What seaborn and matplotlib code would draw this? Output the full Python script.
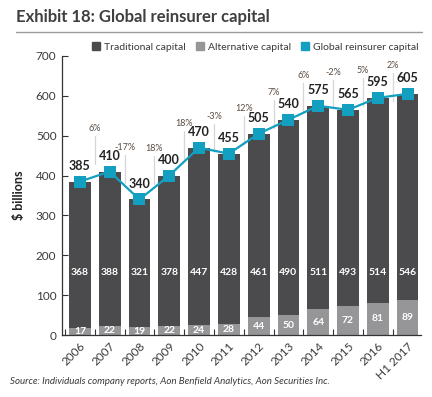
import numpy as np
import pandas as pd
import matplotlib
matplotlib.use("Agg")
import matplotlib.pyplot as plt
import seaborn as sns
from matplotlib.patches import Patch
from matplotlib.lines import Line2D
from matplotlib.ticker import FixedLocator

# ---- data ----
years = ["2006", "2007", "2008", "2009", "2010", "2011", "2012", "2013",
         "2014", "2015", "2016", "H1 2017"]
traditional = [368, 388, 321, 378, 447, 428, 461, 490, 511, 493, 514, 546]
alternative = [17, 22, 19, 22, 24, 28, 44, 50, 64, 72, 81, 89]
total = [385, 410, 340, 400, 470, 455, 505, 540, 575, 565, 595, 605]
pct_change = ["6%", "-17%", "18%", "18%", "-3%", "12%", "7%", "6%", "-2%", "5%", "2%"]
pct_label_y = [519, 471, 469, 531, 549, 569, 609, 652, 659, 664, 677]

C_TRAD = "#4b4b4d"
C_ALT = "#969698"
C_LINE = "#129fc0"
C_TEXT = "#3a3a3a"

sns.set_theme(style="white")
plt.rcParams["font.family"] = ["Lato", "DejaVu Sans"]

fig = plt.figure(figsize=(4.32, 3.97), dpi=100)
ax = fig.add_axes([62 / 432, 1 - 335 / 397, (421 - 62) / 432, (335 - 56) / 397])

df = pd.DataFrame({"year": years, "trad": traditional, "alt": alternative,
                   "global": total})

# dark bar reaches the global total; the alternative part is overlaid at the base
sns.barplot(data=df, x="year", y="global", color=C_TRAD, saturation=1,
            width=0.73, ax=ax, edgecolor="none", order=years)
sns.barplot(data=df, x="year", y="alt", color=C_ALT, saturation=1,
            width=0.73, ax=ax, edgecolor="none", order=years)
xpos = np.arange(len(years))
sns.lineplot(x=xpos, y=df["global"], ax=ax, color=C_LINE, linewidth=1.6,
             marker="s", markersize=9, markeredgewidth=0, zorder=5)

# labels
for i in range(len(years)):
    ax.annotate(str(total[i]), (i, total[i]), xytext=(0, 7), textcoords="offset points",
                ha="center", va="bottom", fontsize=9, fontweight="bold", color="#222222",
                zorder=6)
    ax.text(i, 158, str(traditional[i]), ha="center", va="center", color="white",
            fontsize=7.5, fontweight="bold")
    ax.text(i, alternative[i] / 2, str(alternative[i]), ha="center", va="center",
            color="white", fontsize=7.5, fontweight="bold")

for j, (lab, yv) in enumerate(zip(pct_change, pct_label_y)):
    x = j + 0.5
    ax.text(x, yv, lab, ha="center", va="center", fontsize=6.5, color="#5a4b40")
    ax.plot([x, x], [yv - 20, yv - 90], color="#d6d6d6", lw=0.9, zorder=0.5)

ax.set_ylim(0, 700)
ax.set_xlim(-0.6, 11.45)
ax.set_yticks(range(0, 701, 100))
ax.set_xticks(xpos)
ax.set_xticklabels(years, rotation=45, ha="right", rotation_mode="anchor")
ax.xaxis.set_minor_locator(FixedLocator(np.arange(-0.5, 11.6, 1)))
ax.tick_params(axis="x", which="major", length=0, labelsize=8.5, labelcolor=C_TEXT, pad=4)
ax.tick_params(axis="x", which="minor", length=4, direction="in", width=0.8, color="#333333",
               bottom=True)
ax.tick_params(axis="y", length=4, direction="in", width=0.8, color="#333333",
               labelsize=8.5, labelcolor=C_TEXT, pad=4, left=True)
ax.set_xlabel("")
ax.set_ylabel("$ billions", fontsize=9, fontweight="bold", color="#222222", labelpad=8)
for s in ["top", "right"]:
    ax.spines[s].set_visible(False)
for s in ["left", "bottom"]:
    ax.spines[s].set_color("#333333")
    ax.spines[s].set_linewidth(0.9)

# legend
handles = [Patch(color=C_TRAD, label="Traditional capital"),
           Patch(color=C_ALT, label="Alternative capital"),
           Patch(color=C_LINE, label="Global reinsurer capital")]
fig.legend(handles=handles, loc="center right", bbox_to_anchor=(428 / 432, 1 - 47 / 397),
           ncol=3, frameon=False, fontsize=7.5, handlelength=0.8, handleheight=0.8,
           handletextpad=0.4, columnspacing=0.9, labelcolor=C_TEXT)

# title and rule
fig.text(16 / 432, 1 - 17 / 397, "Exhibit 18: Global reinsurer capital", fontsize=12,
         fontweight="bold", color="#3f3f3f", va="center", ha="left")
fig.add_artist(Line2D([16 / 432, 422 / 432], [1 - 32 / 397, 1 - 32 / 397],
                      color="#9a9a9a", lw=1.0))
fig.text(10 / 432, 1 - 381 / 397,
         "Source: Individuals company reports, Aon Benfield Analytics, Aon Securities Inc.",
         fontsize=7, style="italic", color="#3a3a3a", va="center", ha="left")

fig.savefig("out.png", dpi=100)
